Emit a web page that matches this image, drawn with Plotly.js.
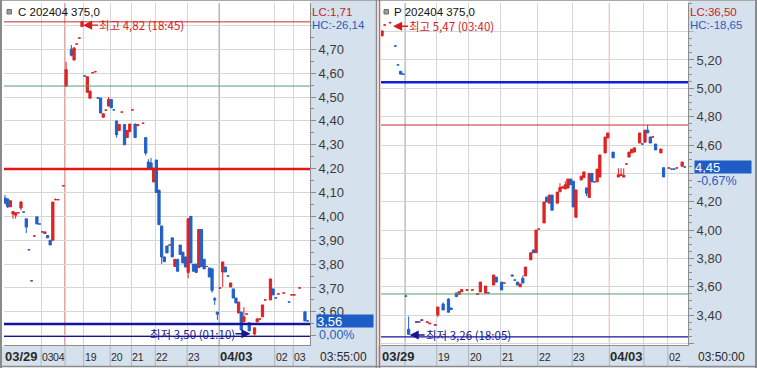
<!DOCTYPE html>
<html><head><meta charset="utf-8">
<script src="https://cdn.plot.ly/plotly-3.0.1.min.js"></script>
<style>html,body{margin:0;padding:0;background:#fff}#chart{width:757px;height:368px}</style>
</head><body><div id="chart"></div>
<script>
// ---------- LEFT: C 202404 375.0 (slot index, OHLC) ----------
const L_idx = [0,1,2,3,4,5,6,7,8,9,
  10,11,12,13,14,15,16,17,18,19,
  20,22,23,25,26,27,28,29,30,31,
  32,33,34,35,36,37,38,39,40,41,
  42,43,44,45,46,47,48,49,50,52,
  53,54,55,56,57,58,59,60,61,62,
  63,64,65,66,67,68,69,70,71,72,
  73,74,75,76,77,78,79,80,81,82,
  83,84,85,86,87,88,89,90,91,92,
  94,95,96,97,98,100,101,102,103,105,
  107,108,109,111,113,114];
const L_open = [4.077,4.073,4.04,4.01,4.005,4.015,4.035,4.018,3.99,3.86,
  3.73,3.918,3.998,3.968,3.935,3.928,3.92,3.90,3.90,4.07,
  4.07,4.128,4.545,4.70,4.655,4.722,4.747,4.795,4.588,4.52,
  4.495,4.602,4.606,4.496,4.496,4.415,4.445,4.462,4.49,4.446,
  4.40,4.36,4.437,4.385,4.33,4.355,4.446,4.387,4.38,4.39,
  4.33,4.228,4.224,4.144,4.236,4.11,3.96,3.83,3.876,3.88,
  3.91,3.79,3.82,3.88,3.85,3.83,3.765,4.00,3.80,3.80,
  3.785,3.945,3.82,3.79,3.784,3.78,3.655,3.599,3.70,3.767,
  3.788,3.75,3.704,3.696,3.658,3.595,3.599,3.558,3.591,3.554,
  3.507,3.558,3.57,3.579,3.65,3.65,3.696,3.658,3.675,3.679,
  3.641,3.671,3.671,3.70,3.60,3.562];
const L_high = [4.09,4.075,4.068,4.02,4.015,4.015,4.065,4.018,3.99,3.86,
  3.73,3.918,3.998,3.968,3.935,3.935,3.92,3.90,4.06,4.075,
  4.07,4.128,4.648,4.718,4.71,4.722,4.747,4.82,4.588,4.588,
  4.525,4.602,4.606,4.496,4.496,4.43,4.445,4.50,4.49,4.446,
  4.40,4.385,4.437,4.385,4.36,4.387,4.446,4.387,4.385,4.39,
  4.33,4.24,4.245,4.202,4.236,4.11,3.96,3.83,3.876,3.88,
  3.91,3.82,3.82,3.88,3.85,3.83,3.99,4.00,3.80,3.80,
  3.945,3.945,3.82,3.79,3.784,3.78,3.662,3.599,3.70,3.809,
  3.788,3.75,3.721,3.696,3.658,3.641,3.599,3.62,3.591,3.554,
  3.533,3.575,3.57,3.629,3.65,3.738,3.696,3.658,3.675,3.679,
  3.641,3.671,3.671,3.70,3.60,3.562];
const L_low = [4.05,4.035,4.04,3.99,3.99,4.015,4.025,4.018,3.93,3.86,
  3.73,3.918,3.968,3.968,3.935,3.928,3.91,3.88,3.90,4.07,
  4.07,4.128,4.545,4.67,4.655,4.722,4.747,4.795,4.588,4.52,
  4.495,4.602,4.606,4.496,4.433,4.415,4.445,4.462,4.455,4.446,
  4.33,4.36,4.437,4.30,4.33,4.355,4.446,4.33,4.38,4.39,
  4.255,4.203,4.203,4.144,4.10,3.965,3.80,3.81,3.847,3.88,
  3.83,3.79,3.77,3.84,3.805,3.788,3.74,3.805,3.77,3.765,
  3.785,3.79,3.78,3.79,3.746,3.68,3.629,3.566,3.70,3.704,
  3.767,3.75,3.704,3.658,3.637,3.595,3.524,3.558,3.591,3.52,
  3.50,3.558,3.57,3.579,3.65,3.65,3.671,3.658,3.675,3.679,
  3.641,3.671,3.671,3.70,3.562,3.562];
const L_close = [4.056,4.04,4.065,4.02,4.015,4.015,4.06,4.018,3.955,3.86,
  3.73,3.918,3.968,3.968,3.935,3.935,3.91,3.88,4.06,4.07,
  4.07,4.128,4.615,4.675,4.705,4.722,4.747,4.815,4.588,4.585,
  4.525,4.602,4.606,4.496,4.433,4.43,4.445,4.49,4.455,4.446,
  4.342,4.385,4.437,4.30,4.36,4.387,4.446,4.33,4.385,4.39,
  4.265,4.203,4.203,4.202,4.10,3.965,3.83,3.81,3.847,3.88,
  3.83,3.82,3.77,3.84,3.805,3.788,3.99,3.805,3.77,3.765,
  3.945,3.79,3.78,3.79,3.746,3.69,3.65,3.59,3.70,3.809,
  3.767,3.75,3.721,3.658,3.637,3.641,3.524,3.579,3.591,3.52,
  3.533,3.57,3.57,3.629,3.65,3.738,3.671,3.658,3.675,3.679,
  3.641,3.671,3.671,3.70,3.562,3.562];
const L_lblText = ['03/29','03','04','19','20','21','22','23','04/03','02','03'];
const L_lblIdx  = [0,14,18,30,40,48,57,69,81,102,109];
const L_gridIdx = [14,23,30,40,48,57,69,81,102,109];
const L_sessIdx = [23,81];
const L_yTicks  = [3.5,3.6,3.7,3.8,3.9,4.0,4.1,4.2,4.3,4.4,4.5,4.6,4.7,4.8];
const L_yText   = ['','3,60','3,70','3,80','3,90','4,00','4,10','4,20','4,30','4,40','4,50','4,60','4,70',''];
const L_levels = {maxLine:4.815, green:4.546, redThick:4.198, navyThick:3.549, minLine:3.497};

// ---------- RIGHT: P 202404 375.0 ----------
const R_idx = [0,1,3,5,6,7,8,9,10,
  13,14,15,17,18,20,21,23,25,26,
  28,29,30,32,34,36,37,39,40,42,
  43,45,46,49,50,51,52,53,54,56,
  57,58,59,61,62,63,64,66,67,68,
  69,70,71,72,73,75,76,77,78,79,
  80,81,82,84,85,87,89,90,91,92,
  93,94,95,97,98,99,100,101,102,103,
  105,106,108,109,110,111,113,114];
const R_open = [5.37,5.447,5.463,5.299,5.165,5.12,5.10,3.534,3.30,
  3.355,3.352,3.368,3.348,3.338,3.328,3.40,3.478,3.513,3.45,
  3.556,3.545,3.565,3.575,3.576,3.545,3.563,3.555,3.556,3.612,
  3.668,3.633,3.626,3.683,3.647,3.633,3.60,3.66,3.676,3.79,
  3.86,3.84,4.007,4.05,4.233,4.19,4.247,4.19,4.27,4.295,
  4.29,4.297,4.36,4.345,4.09,4.353,4.37,4.297,4.23,4.40,
  4.34,4.34,4.374,4.544,4.65,4.55,4.374,4.385,4.374,4.466,
  4.515,4.544,4.55,4.614,4.607,4.62,4.705,4.657,4.657,4.607,
  4.544,4.44,4.438,4.43,4.43,4.438,4.45,4.445];
const R_high = [5.405,5.447,5.47,5.299,5.165,5.12,5.10,3.534,3.39,
  3.355,3.352,3.368,3.352,3.342,3.332,3.457,3.49,3.52,3.45,
  3.556,3.565,3.58,3.578,3.578,3.553,3.633,3.605,3.556,3.683,
  3.668,3.633,3.626,3.683,3.647,3.633,3.62,3.68,3.739,3.84,
  3.86,4.00,4.007,4.198,4.233,4.247,4.247,4.268,4.33,4.305,
  4.345,4.36,4.36,4.345,4.283,4.38,4.41,4.30,4.40,4.40,
  4.34,4.43,4.53,4.656,4.685,4.55,4.436,4.436,4.436,4.466,
  4.55,4.57,4.58,4.685,4.607,4.705,4.741,4.657,4.657,4.607,
  4.572,4.44,4.438,4.43,4.43,4.438,4.48,4.445];
const R_low = [5.37,5.447,5.463,5.299,5.165,5.10,5.10,3.534,3.26,
  3.348,3.352,3.362,3.348,3.338,3.328,3.386,3.436,3.42,3.44,
  3.53,3.545,3.565,3.575,3.576,3.545,3.563,3.555,3.556,3.612,
  3.633,3.577,3.626,3.676,3.647,3.612,3.60,3.626,3.676,3.79,
  3.84,3.84,4.007,4.05,4.198,4.19,4.14,4.19,4.27,4.295,
  4.29,4.297,4.32,4.163,4.09,4.353,4.37,4.24,4.23,4.34,
  4.34,4.34,4.374,4.544,4.65,4.51,4.374,4.385,4.374,4.466,
  4.515,4.544,4.55,4.614,4.607,4.62,4.685,4.614,4.657,4.565,
  4.544,4.375,4.438,4.43,4.43,4.438,4.45,4.445];
const R_close = [5.405,5.447,5.463,5.299,5.165,5.10,5.10,3.534,3.265,
  3.348,3.352,3.362,3.352,3.342,3.332,3.457,3.436,3.42,3.44,
  3.53,3.565,3.58,3.578,3.578,3.553,3.633,3.605,3.556,3.683,
  3.633,3.577,3.626,3.676,3.647,3.612,3.62,3.626,3.739,3.84,
  3.84,4.00,4.007,4.198,4.198,4.247,4.14,4.268,4.30,4.305,
  4.32,4.36,4.32,4.163,4.283,4.38,4.41,4.26,4.40,4.34,
  4.34,4.43,4.53,4.656,4.685,4.51,4.39,4.39,4.385,4.466,
  4.55,4.57,4.58,4.685,4.607,4.705,4.685,4.614,4.657,4.565,
  4.572,4.375,4.438,4.43,4.43,4.438,4.48,4.445];
const R_lblText = ['03/29','19','20','21','22','23','04/03','02'];
const R_lblIdx  = [0,21,33,45,59,72,86,108];
const R_gridIdx = [9,21,33,45,59,72,86,99,108];
const R_sessIdx = [9,86];
const R_yTicks  = [3.2,3.4,3.6,3.8,4.0,4.2,4.4,4.6,4.8,5.0,5.2,5.4];
const R_yText   = ['','3,40','3,60','3,80','4,00','4,20','','4,60','4,80','5,00','5,20',''];
const R_levels = {maxLine:4.741, blueThick:5.043, green:3.549, minLine:3.247};

[[L_idx,L_open,L_high,L_low,L_close],[R_idx,R_open,R_high,R_low,R_close]].forEach(a=>{
  a.forEach(arr=>{ if(arr.length!==a[0].length) throw new Error('length mismatch '+arr.length+' vs '+a[0].length); });
});

// ---------- style / layout ----------
const W=757, H=368;
const fx=x=>x/W, fy=y=>1-y/H;
const RED='#dd2424', BLUE='#2060c8', PANEL='#d6e1ee', GRID='#d6d6d6', AXC='#8c8c8c';
const SESS='#c24848', NAVY='#14149c';
const FONT='Liberation Sans, Arial, sans-serif', KFONT='Noto Sans CJK KR, sans-serif';
const OFF=0.4;

function candle(xa, ya, x, o, h, l, c){
  return {type:'candlestick', x:x, open:o, high:h, low:l, close:c, xaxis:xa, yaxis:ya,
    increasing:{line:{color:RED,width:1}, fillcolor:RED},
    decreasing:{line:{color:BLUE,width:1}, fillcolor:BLUE},
    whiskerwidth:0, hoverinfo:'skip', showlegend:false};
}
const data=[candle('x','y',L_idx,L_open,L_high,L_low,L_close),
            candle('x2','y2',R_idx,R_open,R_high,R_low,R_close)];

const shapes=[], ann=[];
function rectPx(x0,y0,x1,y1,fill,lineColor,layer){
  shapes.push({type:'rect',xref:'paper',yref:'paper',x0:fx(x0),x1:fx(x1),y0:fy(y1),y1:fy(y0),
    fillcolor:fill,line:{width:lineColor?1:0,color:lineColor||fill},layer:layer||'below'});
}
function linePx(x0,y0,x1,y1,color,width){
  shapes.push({type:'line',xref:'paper',yref:'paper',x0:fx(x0),x1:fx(x1),y0:fy(y0),y1:fy(y1),
    line:{color:color,width:width},layer:'above'});
}
rectPx(310,0,377,368,PANEL);
rectPx(0,346,377,367,PANEL);
rectPx(688,0,757,368,PANEL);
rectPx(378,346,757,367,PANEL);

function panelDecor(xa, gridIdx, sessIdx, lblIdx, lblText){
  sessIdx.forEach(i=>shapes.push({type:'line',xref:xa,yref:'paper',x0:i-OFF,x1:i-OFF,y0:fy(345),y1:fy(3),
     line:{color:SESS,width:1},layer:'between'}));
  gridIdx.forEach(i=>shapes.push({type:'line',xref:xa,yref:'paper',x0:i-OFF,x1:i-OFF,y0:fy(366),y1:fy(346),
     line:{color:'#aab4c2',width:1},layer:'above'}));
  lblIdx.forEach((i,k)=>{
    const bold = lblText[k].indexOf('/')>=0;
    ann.push({xref:xa,yref:'paper',x:i-OFF,y:fy(356.5),xanchor:'left',yanchor:'middle',xshift:0,
      text: bold?'<b>'+lblText[k]+'</b>':lblText[k],showarrow:false,borderpad:0,
      font:{family:FONT,size:bold?13:10.5,color:'#2a2a2a'}});
  });
}
panelDecor('x',L_gridIdx,L_sessIdx,L_lblIdx,L_lblText);
panelDecor('x2',R_gridIdx,R_sessIdx,R_lblIdx,R_lblText);

function level(xa, ya, v, color, width){
  shapes.push({type:'line',xref:xa+' domain',yref:ya,x0:0,x1:1,y0:v,y1:v,line:{color:color,width:width},layer:'above'});
}
level('x','y',L_levels.maxLine,'#cc2a2a',1);
level('x','y',L_levels.green,'#5c9c74',1);
level('x','y',L_levels.redThick,'#e01818',2.5);
level('x','y',L_levels.navyThick,NAVY,2.5);
level('x','y',L_levels.minLine,NAVY,1.3);
level('x2','y2',R_levels.maxLine,'#cc2a2a',1);
level('x2','y2',R_levels.blueThick,'#1020d8',2.5);
level('x2','y2',R_levels.green,'#5c9c74',1);
level('x2','y2',R_levels.minLine,NAVY,1.3);

linePx(0,0.5,757,0.5,'#a8a8a8',1);
linePx(1,0,1,368,'#8a8a8a',2);
linePx(376.5,0,376.5,368,'#8a8a8a',1.5);
linePx(379.5,0,379.5,368,'#b86a6a',1.5);
linePx(756,0,756,368,'#8a8a8a',2);
linePx(0,366.5,757,366.5,'#8a8a8a',1.5);

function txt(x,y,t,color,size,family,extra){
  ann.push(Object.assign({xref:'paper',yref:'paper',x:fx(x),y:fy(y),xanchor:'left',yanchor:'middle',
    text:t,showarrow:false,borderpad:0,font:{family:family||FONT,size:size,color:color}},extra||{}));
}
rectPx(7,9.5,11.5,14,'#9c9c9c','#6e6e6e','above');
rectPx(384,9.5,388.5,14,'#9c9c9c','#6e6e6e','above');
txt(17,12,'C 202404 375,0','#111',11.5);
txt(393,12,'P 202404 375,0','#111',11.5);
txt(311,11.5,'LC:1,71','#c81e1e',11.5,FONT,{bgcolor:PANEL});
txt(311,25,'HC:-26,14','#2a5cc0',11.5,FONT,{bgcolor:PANEL});
txt(689,11.5,'LC:36,50','#c81e1e',11.5,FONT,{bgcolor:PANEL});
txt(689,25,'HC:-18,65','#2a5cc0',11.5,FONT,{bgcolor:PANEL});
txt(319,356.5,'03:55:00','#2a2a2a',12);
txt(697,356.5,'03:50:00','#2a2a2a',12);

function priceBox(ya, xPx, v, label, pct){
  ann.push({xref:'paper',yref:ya,x:fx(xPx),y:v,yshift:-0.5,xanchor:'left',yanchor:'middle',text:label,showarrow:false,
    bgcolor:'#1f5cc6',font:{family:FONT,size:13,color:'#fff'},width:56,height:12,align:'left',borderpad:0});
  ann.push({xref:'paper',yref:ya,x:fx(xPx+2),y:v,yshift:-14,xanchor:'left',yanchor:'middle',text:pct,showarrow:false,
    bgcolor:PANEL,font:{family:FONT,size:12.5,color:'#2a5cc0'},width:50,height:11,align:'left',borderpad:0});
}
priceBox('y',316,L_close[L_close.length-1],'3,56','0,00%');
priceBox('y2',694,R_close[R_close.length-1],'4,45','-0,67%');

function mark(xa,ya,i,v,t,color,dir,xs,ys){
  ann.push({xref:xa,yref:ya,x:i,y:v,text:t,showarrow:true,ax:dir*15,ay:0,xanchor:dir>0?'left':'right',
    xshift:xs,yshift:ys,arrowhead:2,arrowsize:1.3,arrowwidth:1.4,arrowcolor:color,standoff:0,borderpad:0,
    font:{family:KFONT,size:11.5,color:color}});
}
mark('x','y',29,4.82,'최고 4,82 (18:45)','#d41c1c',1,1,-4.5);
mark('x','y',94,3.50,'최저 3,50 (01:10)','#16168e',-1,-4,2);
mark('x2','y2',3,5.47,'최고 5,47 (03:40)','#d41c1c',1,3,-4.5);
mark('x2','y2',10,3.26,'최저 3,26 (18:05)','#16168e',1,1,0);

function xax(dom, range, gridIdx){
  return {domain:dom, range:range, showticklabels:false, tickmode:'array', tickvals:gridIdx.map(i=>i-OFF), ticks:'',
    showgrid:true, gridcolor:GRID, gridwidth:1, zeroline:false, showline:true, linecolor:AXC,
    rangeslider:{visible:false}, fixedrange:true};
}
function yax(anchor, range, tv, tt){
  return {domain:[fy(345),fy(3)], range:range, side:'right', anchor:anchor,
    tickmode:'array', tickvals:tv, ticktext:tt, ticks:'outside', ticklen:5, tickcolor:AXC,
    showline:true, linecolor:AXC, showgrid:true, gridcolor:GRID, zeroline:false, fixedrange:true,
    tickfont:{family:FONT,size:13,color:'#3a3a3a'},
    minor:{tickmode:'linear', tick0:0, dtick:0.05, ticks:'outside', ticklen:3, tickcolor:AXC, showgrid:false}};
}
const layout={
  width:W, height:H, margin:{l:0,r:0,t:0,b:0}, paper_bgcolor:'#fff', plot_bgcolor:'#fff',
  showlegend:false, separators:',.', boxgap:0.15, boxgroupgap:0, dragmode:false,
  xaxis: xax([fx(4),fx(310)],[-0.4,114.9],L_gridIdx),
  yaxis: yax('x',[3.461,4.894],L_yTicks,L_yText),
  xaxis2: xax([fx(381),fx(688)],[-0.4,115.2],R_gridIdx),
  yaxis2: yax('x2',[3.189,5.602],R_yTicks,R_yText),
  shapes:shapes, annotations:ann
};
Plotly.newPlot('chart',data,layout,{staticPlot:true,displayModeBar:false});
</script></body></html>
